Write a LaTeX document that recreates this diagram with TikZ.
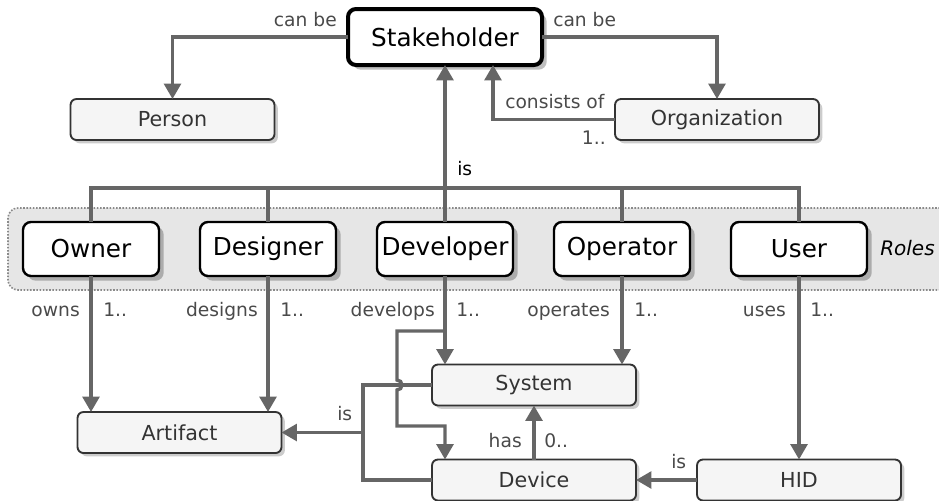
\documentclass[tikz,border=0pt]{standalone}
\usepackage{fontspec}
\setmainfont{DejaVu Sans}
\usetikzlibrary{arrows.meta,shadows}
\definecolor{wire}{HTML}{666666}
\definecolor{labelgray}{HTML}{4A4A4A}
\definecolor{boxfill}{HTML}{F5F5F5}
\definecolor{groupfill}{HTML}{E6E6E6}
\definecolor{groupline}{HTML}{8A8A8A}
\tikzset{
  wire/.style={draw=wire,line width=2.6pt},
  conn/.style={wire,-{Triangle[length=11.5pt,width=12.5pt]}},
  entity/.style={draw=black!80,fill=boxfill,rounded corners=4.5pt,line width=1.4pt,
    minimum width=153pt,minimum height=30.75pt,inner sep=0pt,outer sep=0pt,text=black!80,
    font=\fontsize{15.5pt}{17pt}\selectfont,
    drop shadow={shadow xshift=2.5pt,shadow yshift=-2.5pt,fill=black,opacity=0.2}},
  rolebox/.style={draw=black,fill=white,rounded corners=6pt,line width=1.8pt,
    minimum width=102pt,minimum height=40.5pt,inner sep=0pt,outer sep=0pt,
    font=\fontsize{18.5pt}{20pt}\selectfont,
    drop shadow={shadow xshift=3.5pt,shadow yshift=-3.5pt,fill=black,opacity=0.25}},
  rel/.style={text=labelgray,font=\fontsize{14pt}{16pt}\selectfont,inner sep=0pt},
}
\begin{document}
\begin{tikzpicture}[x=0.75pt,y=-0.75pt]
\useasboundingbox (0,0) rectangle (939,500);
\clip (0,0) rectangle (939,500);
\fill[white] (0,0) rectangle (939,500);

% band holding the roles
\draw[groupline,fill=groupfill,line width=1.2pt,dash pattern=on 1.2pt off 1.2pt,rounded corners=7.5pt]
  (8,208) rectangle (962,290);

% top level
\node[rolebox,line width=3pt,minimum width=145.5pt,minimum height=42pt] (sh) at (445,37) {Stakeholder};
\node[entity] (person) at (172.5,119.5) {Person};
\node[entity] (org) at (717,119.5) {Organization};

% roles
\node[rolebox] (owner) at (91,249) {Owner};
\node[rolebox] (designer) at (268,249) {Designer};
\node[rolebox] (developer) at (445,249) {Developer};
\node[rolebox] (operator) at (622,249) {Operator};
\node[rolebox] (user) at (799,249) {User};
\node[anchor=base west,inner sep=0pt,font=\fontsize{15pt}{17pt}\selectfont\itshape] (rolestag) at (880,255) {Roles};

% things
\node[entity] (artifact) at (179.5,432.5) {Artifact};
\node[entity] (system) at (534,385) {System};
\node[entity] (device) at (534,480) {Device};
\node[entity] (hid) at (799,480) {HID};

% stakeholder kinds
\draw[conn] (sh.west) -| (person.north);
\draw[conn] (sh.east) -| (org.north);
\coordinate (orgup) at (493,119.5);
\draw[conn] (org.west) -- (orgup) -- (orgup |- sh.south);
\node[rel,anchor=base east] (l1) at (337,26) {can be};
\node[rel,anchor=base west] (l2) at (553,26) {can be};
\node[rel,anchor=base west] (l3) at (505,108) {consists of};
\node[rel,anchor=base east] (l4) at (606,144) {1..};

% roles are stakeholders
\coordinate (bus) at (445,188);
\draw[wire] (owner.north) |- (bus) -| (user.north);
\draw[wire] (designer.north) -- (designer.north |- bus);
\draw[wire] (operator.north) -- (operator.north |- bus);
\draw[conn] (developer.north) -- (sh.south);
\node[anchor=base west,inner sep=0pt,font=\fontsize{14pt}{16pt}\selectfont] (l5) at (457,175) {is};

% what the roles do
\draw[conn] (owner.south) -- (owner.south |- artifact.north);
\draw[conn] (designer.south) -- (designer.south |- artifact.north);
\draw[conn] (operator.south) -- (operator.south |- system.north);
\draw[conn] (user.south) -- (hid.north);
\draw[conn] (developer.south) -- (developer.south |- system.north);
\coordinate (devsplit) at (445,331);
\draw[conn] (devsplit) -- (397,331) -- (397,380)
  arc[start angle=90,end angle=-90,radius=3.75pt] -- (397,426) -- (445,426)
  -- (devsplit |- device.north);

\node[rel,anchor=base east] (o1) at (80,316) {owns};
\node[rel,anchor=base west] (o2) at (103,316) {1..};
\node[rel,anchor=base east] (d1) at (258,316) {designs};
\node[rel,anchor=base west] (d2) at (280,316) {1..};
\node[rel,anchor=base east] (v1) at (435,316) {develops};
\node[rel,anchor=base west] (v2) at (456,316) {1..};
\node[rel,anchor=base east] (p1) at (610,316) {operates};
\node[rel,anchor=base west] (p2) at (634,316) {1..};
\node[rel,anchor=base east] (u1) at (786,316) {uses};
\node[rel,anchor=base west] (u2) at (810,316) {1..};

% systems and devices are artifacts
\coordinate (isjoin) at (363,432.5);
\draw[wire] (system.west) -| (isjoin) |- (device.west);
\draw[conn] (isjoin) -- (artifact.east);
\node[rel,anchor=base west] (i1) at (337,420) {is};

\draw[conn] (device.north) -- (system.south);
\node[rel,anchor=base east] (h1) at (522,447) {has};
\node[rel,anchor=base west] (h2) at (544,447) {0..};

\draw[conn] (hid.west) -- (device.east);
\node[rel,anchor=base west] (i2) at (671,468) {is};
\end{tikzpicture}
\end{document}
